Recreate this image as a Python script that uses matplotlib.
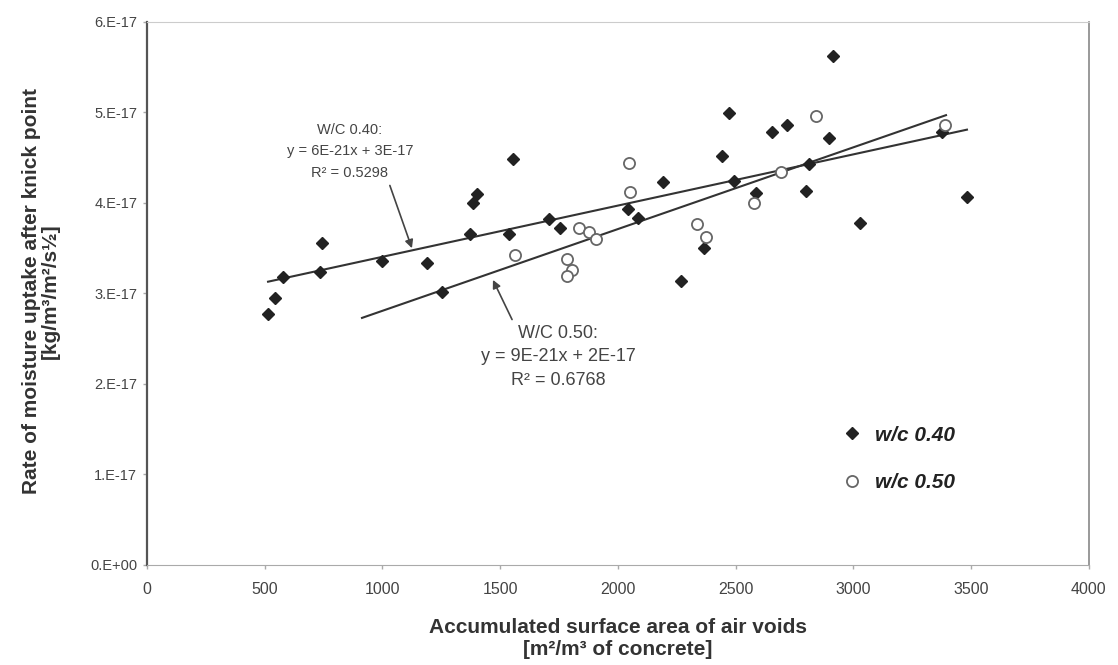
import matplotlib
matplotlib.use("Agg")
import matplotlib.pyplot as plt
from matplotlib.ticker import FuncFormatter

plt.rcParams['font.family'] = ['Liberation Sans', 'DejaVu Sans']

# w/c 0.40 (filled diamonds)
x40 = [514, 544, 577, 735, 743, 998, 1189, 1253, 1372, 1384, 1401, 1554, 1537,
       1707, 1754, 2042, 2085, 2191, 2442, 2493, 2586, 2365, 2268, 2654, 2718,
       2471, 2913, 2896, 2811, 2798, 3028, 3482, 3376]
y40 = [2.77, 2.95, 3.18, 3.24, 3.56, 3.36, 3.34, 3.02, 3.66, 4.00, 4.10, 4.49, 3.66,
       3.82, 3.72, 3.93, 3.83, 4.23, 4.52, 4.24, 4.11, 3.50, 3.14, 4.78, 4.86,
       4.99, 5.62, 4.72, 4.43, 4.13, 3.78, 4.07, 4.78]

# w/c 0.50 (open circles)
x50 = [2047, 2051, 1834, 1877, 1907, 1563, 1783, 1805, 1783, 2335, 2374, 2577,
       2692, 2841, 3389]
y50 = [4.44, 4.12, 3.72, 3.68, 3.60, 3.43, 3.38, 3.26, 3.19, 3.77, 3.62, 4.00,
       4.34, 4.96, 4.86]

# trend lines
fit40_x = [514, 3482]
fit40_y = [3.13, 4.81]
fit50_x = [913, 3393]
fit50_y = [2.73, 4.97]

scale = 1e-17
y40 = [v * scale for v in y40]
y50 = [v * scale for v in y50]
fit40_y = [v * scale for v in fit40_y]
fit50_y = [v * scale for v in fit50_y]

fig = plt.figure(figsize=(11.18, 6.65), dpi=100)
ax = fig.add_axes([0.1315, 0.1504, 0.8425, 0.8166])

ax.plot(fit40_x, fit40_y, color='#333333', lw=1.5, zorder=2)
ax.plot(fit50_x, fit50_y, color='#333333', lw=1.5, zorder=2)
ax.plot(x40, y40, 'D', ms=6.5, color='#222222', mec='#222222', label='w/c 0.40', zorder=3)
ax.plot(x50, y50, 'o', ms=8, mfc='white', mec='#666666', mew=1.3,
        label='w/c 0.50', zorder=3)

ax.set_xlim(0, 4000)
ax.set_ylim(0, 6e-17)
ax.set_xticks(range(0, 4001, 500))
ax.set_yticks([i * 1e-17 for i in range(7)])
ax.yaxis.set_major_formatter(FuncFormatter(lambda v, p: '{:#.0E}'.format(v)))
ax.tick_params(axis='both', labelcolor='#444444', color='#aaaaaa', length=3, width=1)
ax.tick_params(axis='x', labelsize=11.5, pad=9)
ax.tick_params(axis='y', labelsize=10.5, pad=4)

ax.spines['left'].set_color('#555555')
ax.spines['left'].set_linewidth(1.6)
ax.spines['right'].set_color('#888888')
ax.spines['right'].set_linewidth(1.2)
ax.spines['top'].set_color('#cccccc')
ax.spines['bottom'].set_color('#aaaaaa')

ax.set_xlabel('Accumulated surface area of air voids\n[m²/m³ of concrete]',
              fontsize=15, fontweight='bold', color='#333333', linespacing=1.2)
ax.xaxis.set_label_coords(0.5, -0.097)
ax.set_ylabel('Rate of moisture uptake after knick point\n[kg/m³/m²/s½]',
              fontsize=15, fontweight='bold', color='#333333', linespacing=0.95)
ax.yaxis.set_label_coords(-0.093, 0.505)

ax.annotate('W/C 0.40:\ny = 6E-21x + 3E-17\nR² = 0.5298',
            xy=(1125, 3.50e-17), xytext=(862, 4.57e-17),
            ha='center', va='center', fontsize=10.5, color='#444444',
            linespacing=1.7,
            arrowprops=dict(arrowstyle='-|>', color='#444444', lw=1.2,
                            mutation_scale=12, shrinkA=2, shrinkB=0,
                            relpos=(0.8, 0.0)))
ax.annotate('W/C 0.50:\ny = 9E-21x + 2E-17\nR² = 0.6768',
            xy=(1469, 3.15e-17), xytext=(1745, 2.30e-17),
            ha='center', va='center', fontsize=13, color='#444444',
            linespacing=1.5,
            arrowprops=dict(arrowstyle='-|>', color='#444444', lw=1.2,
                            mutation_scale=12, shrinkA=2, shrinkB=0,
                            relpos=(0.22, 1.0)))

leg = ax.legend(loc='upper left', bbox_to_anchor=(0.718, 0.291), frameon=False,
                labelspacing=1.35, handletextpad=0.58, handlelength=1.0,
                prop={'size': 15, 'weight': 'bold', 'style': 'italic'})
for t in leg.get_texts():
    t.set_color('#222222')

fig.savefig('out.png', dpi=100, facecolor='white')
